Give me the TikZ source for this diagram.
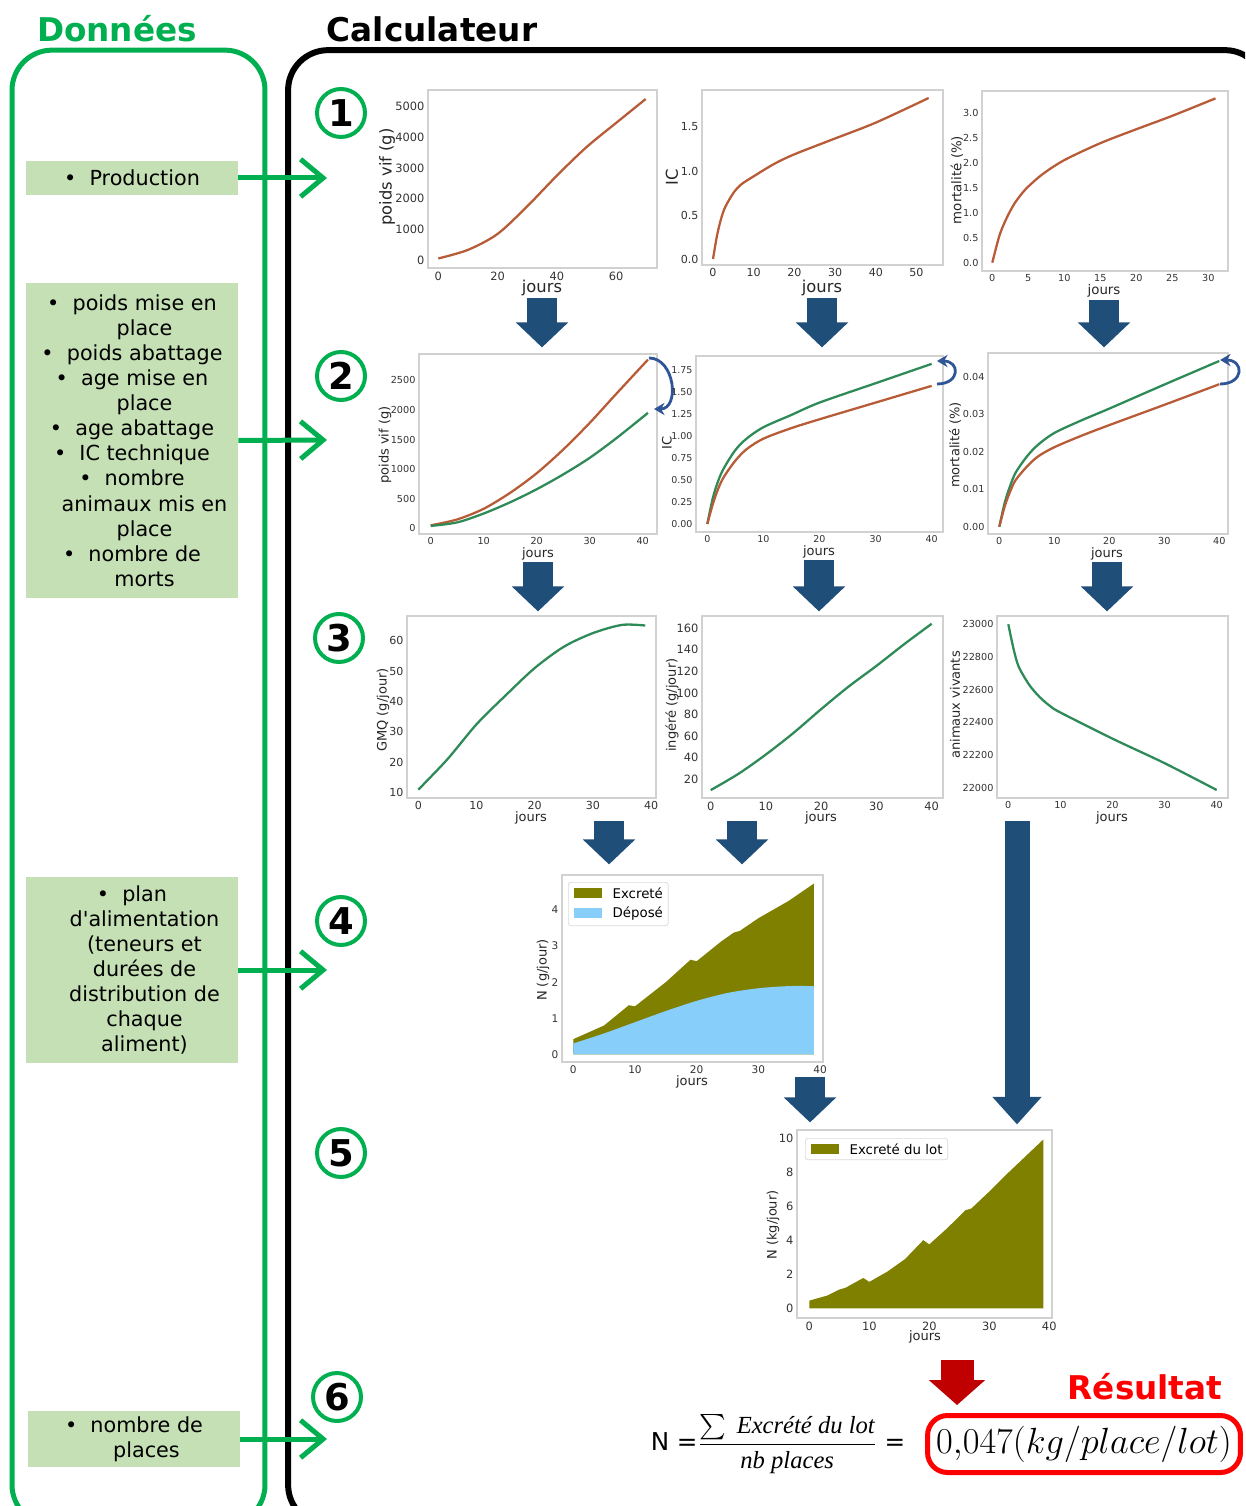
\documentclass[tikz,border=0pt]{standalone}
\usepackage{amsmath}
\usepackage{fontspec}
\setmainfont{DejaVu Sans}
\newfontfamily\formfont{Liberation Serif}
\usetikzlibrary{arrows.meta, positioning}

\definecolor{vert}{HTML}{00B050}
\definecolor{vertclair}{HTML}{C5E0B4}
\definecolor{bleufonce}{HTML}{1F4E79}
\definecolor{fleche}{HTML}{2F5597}
\definecolor{brun}{RGB}{184,92,56}
\definecolor{courbe}{RGB}{46,139,87}
\definecolor{olivatre}{HTML}{808000}
\definecolor{ciel}{HTML}{87CEFA}
\definecolor{rougefonce}{HTML}{C00000}

% ligne de suite d'une puce (retrait)
\newcommand{\suite}[1]{\hspace*{0.5cm}#1}

\begin{document}
\begin{tikzpicture}[x=0.02cm, y=-0.02cm,
    panneau/.style={draw, rounded corners=0.8cm, line width=0.1cm},
    titre/.style={font=\bfseries\fontsize{18.6}{18.6}\selectfont},
    donnee/.style={fill=vertclair, minimum width=4.24cm, align=center, inner sep=0pt, font=\fontsize{11.8}{14.3}\selectfont},
    entree/.style={draw=vert, line width=0.1cm, -{Straight Barb[length=0.45cm, width=0.75cm]}},
    etape/.style={circle, draw=vert, line width=0.08cm, minimum size=0.96cm, inner sep=0pt, font=\bfseries\fontsize{21}{21}\selectfont},
    cadre/.style={draw=black!18, line width=0.7pt, inner sep=0pt},
    grad/.style={font=\fontsize{#1}{#1}\selectfont, text=black!80, inner sep=1.5pt},
    grad/.default=6,
    axe/.style={font=\fontsize{#1}{#1}\selectfont, text=black!85, inner sep=1pt},
    axe/.default=7.4,
    serie1/.style={draw=brun, line width=1.3pt},
    serie2/.style={draw=courbe, line width=1.3pt},
    legende/.style={draw=black!15, fill=white, rounded corners=1.5pt, align=left, inner sep=3pt, font=\fontsize{7.6}{11}\selectfont},
    tour/.style={draw=fleche, line width=1.6pt, -{Stealth[length=6pt, width=7pt]}},
    bloc/.style={draw=bleufonce, line width=0.6cm, -{Triangle[length=0.5cm, width=1.02cm]}},
    blocmince/.style={draw=bleufonce, line width=0.5cm, -{Triangle[length=0.55cm, width=0.95cm]}},
    blocrouge/.style={draw=rougefonce, line width=0.66cm, -{Triangle[length=0.5cm, width=1.1cm]}},
    resultat/.style={draw=red, line width=0.1cm, rounded corners=0.4cm, minimum width=6.26cm, minimum height=1.14cm, inner sep=1pt, font=\fontsize{20}{20}\selectfont}]

    \useasboundingbox (0,0) rectangle (1245,1506);
    \clip (0,0) rectangle (1245,1506);

    % Panneaux
    \node[panneau, draw=vert, minimum width=5.06cm, minimum height=29.5cm] (donnees) at (138.5,787.5) {};
    \node[titre, text=vert] (donnees_titre) at (117,29) {Données};
    \node[panneau, draw=black, line width=0.12cm, minimum width=19.54cm, minimum height=29.5cm] (calc) at (776.5,787.5) {};
    \node[titre] (calc_titre) at (432,29) {Calculateur};

    % Donnees
    \node[donnee, minimum height=0.68cm] (prod) at (132,178) {\textbullet\ \ Production};
    \node[donnee, minimum height=6.3cm] (lot) at (132,440.5) {\textbullet\ \ poids mise en\\ \suite{place}\\ \textbullet\ \ poids abattage\\ \textbullet\ \ age mise en\\ \suite{place}\\ \textbullet\ \ age abattage\\ \textbullet\ \ IC technique\\ \textbullet\ \ nombre\\ \suite{animaux mis en}\\ \suite{place}\\ \textbullet\ \ nombre de\\ \suite{morts}};
    \node[donnee, minimum height=3.72cm] (alim) at (132,970) {\textbullet\ \ plan\\ \suite{d\textquotesingle alimentation}\\ \suite{(teneurs et}\\ \suite{durées de}\\ \suite{distribution de}\\ \suite{chaque}\\ \suite{aliment)}};
    \node[donnee, minimum height=1.12cm] (places) at (134,1439) {\textbullet\ \ nombre de\\ \suite{places}};

    \coordinate (in1) at (327,178);
    \coordinate (in2) at (327,440);
    \coordinate (in3) at (327,970);
    \coordinate (in4) at (327,1439);
    \draw[entree] (prod.east) -- (in1);
    \draw[entree] (lot.east) -- (in2);
    \draw[entree] (alim.east) -- (in3);
    \draw[entree] (places.east) -- (in4);

    % Etapes
    \node[etape] (e1) at (341,113) {1};
    \node[etape] (e2) at (341,376) {2};
    \node[etape] (e3) at (339,638) {3};
    \node[etape] (e4) at (341,921) {4};
    \node[etape] (e5) at (341,1153) {5};
    \node[etape] (e6) at (337,1397) {6};

    % Graphe 1 : poids vif
    \node[cadre, minimum width=4.58cm, minimum height=3.56cm] (p1) at (542.5,179) {};
    \begin{scope}[shift={(438.3,260)}, x=0.05926cm, y=0.6133cm]
        \foreach \v in {0,20,40,60}
            \node[grad=6.5, anchor=north] at (\v,0 |- p1.south) {\v};
        \foreach \v/\t in {0/0,1/1000,2/2000,3/3000,4/4000,5/5000}
            \node[grad=6.5, anchor=east] at (p1.west |- 0,\v) {\t};
        \draw[serie1] plot[smooth] coordinates {(0,0.05) (10,0.33) (20,0.85) (30,1.75) (40,2.75) (50,3.68) (60,4.47) (70,5.25)};
    \end{scope}
    \node[axe=9.3, rotate=90] (p1y) at (387,177) {poids vif (g)};
    \node[axe=9.3] (p1x) at (542,288) {jours};

    % Graphe 2 : IC
    \node[cadre, minimum width=4.82cm, minimum height=3.5cm] (p2) at (822.5,177.5) {};
    \begin{scope}[shift={(713,259)}, x=0.0814cm, y=1.76cm]
        \foreach \v in {0,10,...,50}
            \node[grad=6.3, anchor=north] at (\v,0 |- p2.south) {\v};
        \foreach \v/\t in {0/0.0,0.5/0.5,1/1.0,1.5/1.5}
            \node[grad=6.3, anchor=east] at (p2.west |- 0,\v) {\t};
        \draw[serie1] plot[smooth] coordinates {(0,0) (1,0.27) (2,0.46) (3,0.59) (5,0.75) (7,0.85) (10,0.94) (15,1.08) (20,1.19) (30,1.37) (40,1.55) (53,1.83)};
    \end{scope}
    \node[axe=9.3, rotate=90] (p2y) at (672,177) {IC};
    \node[axe=9.3] (p2x) at (822,288) {jours};

    % Graphe 3 : mortalite
    \node[cadre, minimum width=4.92cm, minimum height=3.6cm] (p3) at (1105,181) {};
    \begin{scope}[shift={(992.3,262.7)}, x=0.144cm, y=0.996cm]
        \foreach \v in {0,5,...,30}
            \node[grad=5.5, anchor=north] at (\v,0 |- p3.south) {\v};
        \foreach \v/\t in {0/0.0,0.5/0.5,1/1.0,1.5/1.5,2/2.0,2.5/2.5,3/3.0}
            \node[grad=5.5, anchor=east] at (p3.west |- 0,\v) {\t};
        \draw[serie1] plot[smooth] coordinates {(0,0) (1,0.55) (2,0.9) (3,1.17) (4,1.37) (5,1.53) (7,1.78) (10,2.06) (15,2.4) (20,2.68) (25,2.95) (31,3.3)};
    \end{scope}
    \node[axe=7.6, rotate=90] (p3y) at (957,180) {mortalité (\%)};
    \node[axe=7.6] (p3x) at (1104,291) {jours};

    % Graphe 4 : poids vif corrige
    \node[cadre, minimum width=4.76cm, minimum height=3.6cm] (p4) at (538,444) {};
    \begin{scope}[shift={(430.7,528.3)}, x=0.106cm, y=1.184cm]
        \foreach \v in {0,10,...,40}
            \node[grad=5.5, anchor=north] at (\v,0 |- p4.south) {\v};
        \foreach \v/\t in {0/0,0.5/500,1/1000,1.5/1500,2/2000,2.5/2500}
            \node[grad=5.5, anchor=east] at (p4.west |- 0,\v) {\t};
        \draw[serie1] plot[smooth] coordinates {(0,0.05) (5,0.15) (10,0.33) (15,0.6) (20,0.93) (25,1.33) (30,1.78) (35,2.27) (41,2.85)};
        \draw[serie2] plot[smooth] coordinates {(0,0.04) (5,0.1) (10,0.25) (15,0.44) (20,0.66) (25,0.91) (30,1.19) (35,1.52) (41,1.95)};
    \end{scope}
    \node[axe, rotate=90] (p4y) at (385,445) {poids vif (g)};
    \node[axe] (p4x) at (538,554) {jours};
    \coordinate (t4a) at (649,358);
    \coordinate (t4b) at (654,409);
    \draw[tour] (t4a) to[out=0, in=0, looseness=1.3] (t4b);

    % Graphe 5 : IC corrige
    \node[cadre, minimum width=4.94cm, minimum height=3.52cm] (p5) at (819.5,444) {};
    \begin{scope}[shift={(707.3,524)}, x=0.1122cm, y=1.76cm]
        \foreach \v in {0,10,...,40}
            \node[grad=5.4, anchor=north] at (\v,0 |- p5.south) {\v};
        \foreach \v/\t in {0/0.00,0.25/0.25,0.5/0.50,0.75/0.75,1/1.00,1.25/1.25,1.5/1.50,1.75/1.75}
            \node[grad=5.4, anchor=east] at (p5.west |- 0,\v) {\t};
        \draw[serie2] plot[smooth] coordinates {(0,0) (1,0.3) (2,0.5) (3,0.64) (5,0.84) (7,0.97) (10,1.1) (15,1.24) (20,1.38) (30,1.6) (40,1.82)};
        \draw[serie1] plot[smooth] coordinates {(0,0) (1,0.23) (2,0.41) (3,0.54) (5,0.72) (7,0.85) (10,0.97) (15,1.09) (20,1.19) (30,1.38) (40,1.57)};
    \end{scope}
    \node[axe, rotate=90] (p5y) at (667,443) {IC};
    \node[axe] (p5x) at (819,552) {jours};
    \coordinate (t5a) at (937,384);
    \coordinate (t5b) at (937,361);
    \draw[tour] (t5a) to[out=0, in=0, looseness=2.6] (t5b);

    % Graphe 6 : mortalite corrigee
    \node[cadre, minimum width=4.8cm, minimum height=3.62cm] (p6) at (1108,443.5) {};
    \begin{scope}[shift={(999.3,526.7)}, x=0.11cm, y=0.75cm]
        \foreach \v in {0,10,...,40}
            \node[grad=5.5, anchor=north] at (\v,0 |- p6.south) {\v};
        \foreach \v/\t in {0/0.00,1/0.01,2/0.02,3/0.03,4/0.04}
            \node[grad=5.5, anchor=east] at (p6.west |- 0,\v) {\t};
        \draw[serie2] plot[smooth] coordinates {(0,0) (1,0.65) (2,1.1) (3,1.45) (5,1.87) (7,2.18) (10,2.5) (15,2.84) (20,3.15) (30,3.79) (40,4.42)};
        \draw[serie1] plot[smooth] coordinates {(0,0) (1,0.55) (2,0.95) (3,1.25) (5,1.6) (7,1.87) (10,2.12) (15,2.43) (20,2.71) (30,3.25) (40,3.8)};
    \end{scope}
    \node[axe, rotate=90] (p6y) at (955,445) {mortalité (\%)};
    \node[axe] (p6x) at (1107,554) {jours};
    \coordinate (t6a) at (1220,384);
    \coordinate (t6b) at (1220,360);
    \draw[tour] (t6a) to[out=0, in=0, looseness=2.6] (t6b);

    % Graphe 7 : GMQ
    \node[cadre, minimum width=4.98cm, minimum height=3.64cm] (p7) at (531.5,707) {};
    \begin{scope}[shift={(418.3,823.1)}, x=0.1164cm, y=0.0608cm]
        \foreach \v in {0,10,...,40}
            \node[grad=6.3, anchor=north] at (\v,0 |- p7.south) {\v};
        \foreach \v in {10,20,...,60}
            \node[grad=6.3, anchor=east] at (p7.west |- 0,\v) {\v};
        \draw[serie2] plot[smooth] coordinates {(0,11) (5,21) (10,32.5) (15,42) (20,51) (25,58) (30,62.5) (35,65.2) (39,65)};
    \end{scope}
    \node[axe, rotate=90] (p7y) at (383,710) {GMQ (g/jour)};
    \node[axe] (p7x) at (531,818) {jours};

    % Graphe 8 : ingere
    \node[cadre, minimum width=4.82cm, minimum height=3.64cm] (p8) at (822.5,707) {};
    \begin{scope}[shift={(710.7,800.9)}, x=0.1105cm, y=0.0216cm]
        \foreach \v in {0,10,...,40}
            \node[grad=6.5, anchor=north] at (\v,0 |- p8.south) {\v};
        \foreach \v in {20,40,...,160}
            \node[grad=6.5, anchor=east] at (p8.west |- 0,\v) {\v};
        \draw[serie2] plot[smooth] coordinates {(0,10) (5,25) (10,43) (15,63) (20,85) (25,106) (30,125) (35,145) (40,164)};
    \end{scope}
    \node[axe, rotate=90] (p8y) at (672,705) {ingéré (g/jour)};
    \node[axe] (p8x) at (821,818) {jours};

    % Graphe 9 : animaux vivants
    \node[cadre, minimum width=4.62cm, minimum height=3.64cm] (p9) at (1112.5,707) {};
    \begin{scope}[shift={(1008.3,787.7)}, x=0.1042cm, y=0.327cm]
        \foreach \v in {0,10,...,40}
            \node[grad=5.5, anchor=north] at (\v,0 |- p9.south) {\v};
        \foreach \v/\t in {0/22000,2/22200,4/22400,6/22600,8/22800,10/23000}
            \node[grad=5.5, anchor=east] at (p9.west |- 0,\v) {\t};
        \draw[serie2] plot[smooth] coordinates {(0,10) (1,8.5) (2,7.4) (4,6.3) (6,5.55) (8,5.0) (10,4.6) (20,3.0) (30,1.5) (40,-0.14)};
    \end{scope}
    \node[axe, rotate=90] (p9y) at (955,705) {animaux vivants};
    \node[axe] (p9x) at (1112,818) {jours};

    % Graphe 10 : azote par animal
    \node[cadre, minimum width=5.22cm, minimum height=3.74cm] (p10) at (692.5,968.5) {};
    \begin{scope}[shift={(573.3,1054.3)}, x=0.1234cm, y=0.722cm]
        \fill[olivatre] (0,0) -- (0,0.42) -- (5,0.8) -- (9,1.36) -- (10,1.33) -- (15,2.0) -- (19,2.62) -- (20,2.58) -- (24,3.13) -- (26,3.37) -- (27,3.42) -- (30,3.77) -- (35,4.26) -- (39,4.73) -- (39,0) -- cycle;
        \fill[ciel] (0,0) -- plot[smooth] coordinates {(0,0.3) (5,0.58) (10,0.89) (15,1.2) (20,1.48) (25,1.7) (30,1.83) (35,1.89) (39,1.89)} -- (39,0) -- cycle;
        \foreach \v in {0,10,...,40}
            \node[grad, anchor=north] at (\v,0 |- p10.south) {\v};
        \foreach \v in {0,...,4}
            \node[grad, anchor=east] at (p10.west |- 0,\v) {\v};
    \end{scope}
    \node[legende, anchor=north west] (leg10) at (568,882) {\textcolor{olivatre}{\rule{0.56cm}{0.2cm}}\hspace{0.22cm}Excreté\\ \textcolor{ciel}{\rule{0.56cm}{0.2cm}}\hspace{0.22cm}Déposé};
    \node[axe, rotate=90] (p10y) at (543,970) {N (g/jour)};
    \node[axe] (p10x) at (692,1082) {jours};

    % Graphe 11 : azote du lot
    \node[cadre, minimum width=5.1cm, minimum height=3.76cm] (p11) at (924.5,1224) {};
    \begin{scope}[shift={(809.3,1308.3)}, x=0.12cm, y=0.341cm]
        \fill[olivatre] (0,0) -- (0,0.45) -- (3,0.75) -- (5,1.1) -- (6,1.2) -- (9,1.78) -- (10,1.55) -- (13,2.15) -- (16,2.9) -- (19,4.0) -- (20,3.75) -- (23,4.7) -- (26,5.75) -- (27,5.85) -- (30,6.85) -- (33,7.9) -- (36,8.9) -- (39,9.9) -- (39,0) -- cycle;
        \foreach \v in {0,10,...,40}
            \node[grad=6.5, anchor=north] at (\v,0 |- p11.south) {\v};
        \foreach \v in {0,2,...,10}
            \node[grad=6.5, anchor=east] at (p11.west |- 0,\v) {\v};
    \end{scope}
    \node[legende, anchor=north west] (leg11) at (805,1138) {\textcolor{olivatre}{\rule{0.56cm}{0.2cm}}\hspace{0.22cm}Excreté du lot};
    \node[axe, rotate=90] (p11y) at (773,1225) {N (kg/jour)};
    \node[axe] (p11x) at (925,1337) {jours};

    % Fleches entre graphes
    \draw[bloc, shorten >=0.12cm] (p1x.south) -- (p1x.south |- p4.north);
    \draw[bloc, shorten >=0.16cm] (p2x.south) -- (p2x.south |- p5.north);
    \draw[bloc, shorten >=0.1cm] (p3x.south) -- (p3x.south |- p6.north);
    \draw[bloc, shorten >=0.08cm] (p4x.south) -- (p4x.south |- p7.north);
    \draw[bloc, shorten >=0.08cm] (p5x.south) -- (p5x.south |- p8.north);
    \draw[bloc, shorten >=0.08cm] (p6x.south) -- (p6x.south |- p9.north);
    \coordinate (a7) at (609,821);
    \coordinate (a8) at (742,821);
    \coordinate (a9) at (1017,821);
    \coordinate (a10) at (810,1077);
    \draw[bloc, shorten >=0.2cm] (a7) -- (a7 |- p10.north);
    \draw[bloc, shorten >=0.2cm] (a8) -- (a8 |- p10.north);
    \draw[blocmince, shorten >=0.1cm] (a9) -- (a9 |- p11.north);
    \draw[bloc, shorten >=0.14cm] (a10) -- (a10 |- p11.north);

    % Resultat
    \node[font=\fontsize{14}{16}\selectfont] (formule) at (778,1444) {N =$\dfrac{\sum\text{\formfont\itshape\ Excrété du lot}}{\text{\formfont\itshape nb places}}$ =};
    \node[resultat] (res) at (1084,1444) {$0{,}047(kg/place/lot)$};
    \node[titre, text=red] (res_titre) at (1145,1387) {Résultat};
    \coordinate (a11) at (957,1360);
    \draw[blocrouge, shorten >=0.16cm] (a11) -- (a11 |- res.north);
\end{tikzpicture}
\end{document}
